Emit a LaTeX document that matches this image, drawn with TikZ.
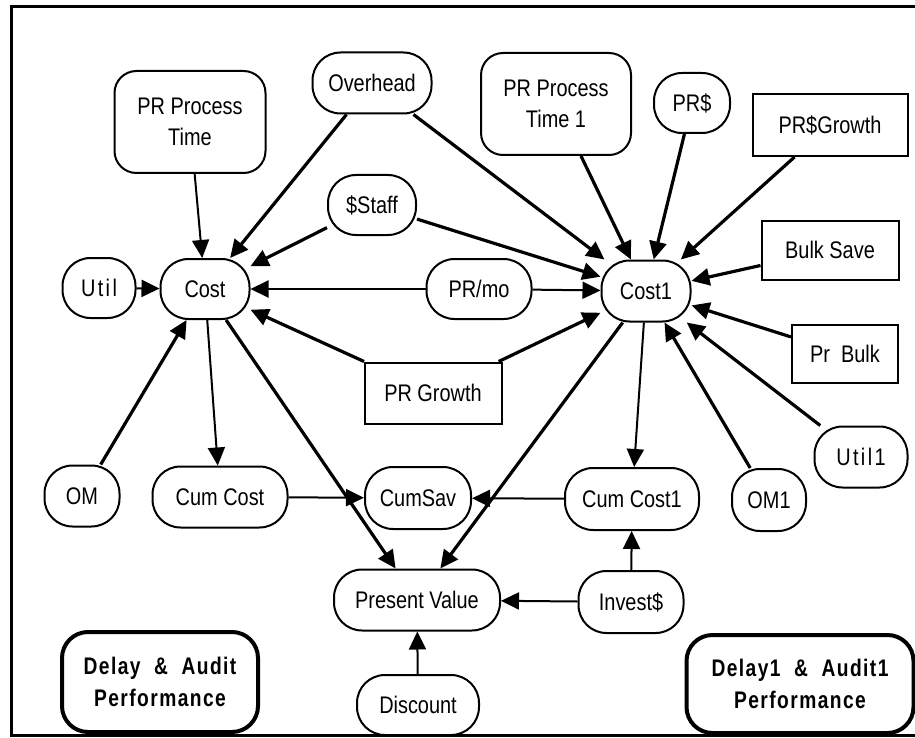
\documentclass[tikz,border=0pt]{standalone}
\usepackage{fontspec}
\setmainfont{Liberation Sans}[FakeStretch=0.83]
\newfontfamily\perffont{Liberation Sans}[LetterSpace=6,FakeStretch=0.8]
\newfontfamily\spfont{Liberation Sans}[LetterSpace=10,FakeStretch=0.83]
\usetikzlibrary{arrows.meta}
\begin{document}
\begin{tikzpicture}[x=1pt,y=-1pt,
  every node/.style={font=\fontsize{24}{31}\selectfont, inner sep=0pt},
  pill/.style={draw, line width=2pt, rounded corners=28pt, minimum height=60pt},
  rbox/.style={draw, line width=2pt, rounded corners=22pt, align=center},
  sbox/.style={draw, line width=2pt, minimum height=60pt},
  perf/.style={draw, line width=4pt, rounded corners=26pt, align=center,
    font=\perffont\bfseries\fontsize{24}{32}\selectfont,
    minimum width=196pt, minimum height=100pt},
  thk/.style={line width=3.2pt, -{Triangle[length=18pt,width=17pt]}},
  thn/.style={line width=2pt, -{Triangle[length=18pt,width=17pt]}},
]
\useasboundingbox (0,0) rectangle (915,738);
\draw[line width=3pt] (915,7) -- (11,7) -- (11,735) -- (915,735);

\node[rbox, minimum width=151pt, minimum height=102pt] (ppt) at (190,122) {PR Process\\Time};
\node[pill, minimum width=119pt, minimum height=61pt] (ovh) at (372,83) {Overhead};
\node[pill, minimum width=88pt] (staff) at (372,205) {\$Staff};
\node[pill, minimum width=73pt] (util) at (99,288) {\spfont Util};
\node[pill, minimum width=89pt] (cost) at (205,289) {Cost};
\node[pill, minimum width=105pt] (prmo) at (479,289) {PR/mo};
\node[rbox, minimum width=150pt, minimum height=102pt] (ppt1) at (556,104) {PR Process\\Time 1};
\node[pill, minimum width=76pt] (prd) at (692,103) {PR\$};
\node[sbox, minimum width=155pt, minimum height=62pt] (prdg) at (830,125) {PR\$Growth};
\node[sbox, minimum width=137pt, minimum height=59pt] (bulk) at (830,250) {Bulk Save};
\node[pill, minimum width=89pt, minimum height=61pt] (cost1) at (646,291) {Cost1};
\node[sbox, minimum width=106pt, minimum height=58pt] (prbulk) at (845,354) {Pr\ \ Bulk};
\node[pill, minimum width=93pt, minimum height=61pt] (util1) at (861,457) {\spfont Util1};
\node[pill, minimum width=74pt, minimum height=62pt] (om1) at (769,500) {OM1};
\node[pill, minimum width=134pt, minimum height=62pt] (cc1) at (632,499) {Cum Cost1};
\node[pill, minimum width=105pt, minimum height=62pt] (inv) at (631,602) {Invest\$};
\node[perf, minimum width=227pt, minimum height=98pt] (d1) at (800,684) {Delay1\ \ \&\ \ Audit1\\Performance};
\node[pill, minimum width=75pt, minimum height=61pt] (om) at (82,496) {OM};
\node[pill, minimum width=135pt, minimum height=61pt] (cc) at (220,497) {Cum Cost};
\node[pill, minimum width=106pt, minimum height=62pt] (cs) at (418,498) {CumSav};
\node[pill, minimum width=166pt, minimum height=61pt] (pv) at (417,600) {Present Value};
\node[pill, minimum width=122pt, minimum height=60pt] (disc) at (418,705) {Discount};
\node[perf] (d0) at (160,682) {Delay\ \ \&\ \ Audit\\Performance};
\node[sbox, minimum width=137pt, minimum height=61pt] (prg) at (433,393) {PR Growth};

% edges into Cost
\draw[thn] (ppt) -- (cost);
\draw[thk] (ovh) -- (cost);
\draw[thk] (staff) -- (cost);
\draw[thn] (util) -- (cost);
\draw[thn] (prmo) -- (cost);
\draw[thk] (prg) -- (cost);
\draw[thk] (om) -- (cost);
% edges into Cost1
\draw[thk] (ovh) -- (cost1);
\draw[thk] (staff) -- (cost1);
\draw[thn] (prmo) -- (cost1);
\draw[thk] (prg) -- (cost1);
\draw[thk] (ppt1) -- (cost1);
\draw[thk] (prd) -- (cost1);
\draw[thk] (prdg) -- (cost1);
\draw[thk] (bulk) -- (cost1);
\draw[thk] (prbulk) -- (cost1);
\draw[thk] (util1) -- (cost1);
\draw[thk] (om1) -- (cost1);
% lower part
\draw[thn] (cost) -- (cc);
\draw[thk] (cost) -- (pv);
\draw[thk] (cost1) -- (pv);
\draw[thn] (cost1) -- (cc1);
\draw[thn] (cc) -- (cs);
\draw[thn] (cc1) -- (cs);
\draw[thn] (inv) -- (pv);
\draw[thn] (inv) -- (cc1);
\draw[thn] (disc) -- (pv);
\end{tikzpicture}
\end{document}
